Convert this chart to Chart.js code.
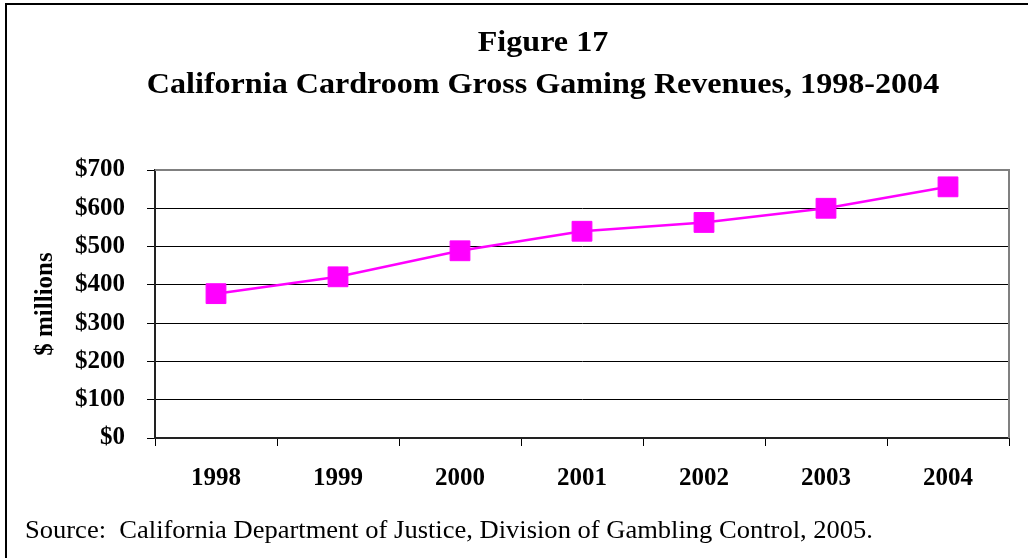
<!DOCTYPE html>
<html>
<head>
<meta charset="utf-8">
<title>California Cardroom Gross Gaming Revenues</title>
<script src="https://cdn.jsdelivr.net/npm/chart.js@4.4.0/dist/chart.umd.min.js"></script>
<style>
  html, body { margin: 0; padding: 0; background: #fff; overflow: hidden; }
  #frame {
    position: absolute; left: 5px; top: 3px; width: 1100px; height: 700px;
    border-left: 2px solid #000; border-top: 2px solid #000;
  }
  #wrap { position: absolute; left: 0; top: 0; width: 1028px; height: 558px; }
</style>
</head>
<body>
<div id="frame"></div>
<div id="wrap"><canvas id="lineChart" width="1028" height="558"></canvas></div>
<script>
// Dados do gráfico
const years = ['1998', '1999', '2000', '2001', '2002', '2003', '2004'];
const revenues = [377, 421, 489, 540, 563, 600, 656];
const yTicks = [0, 100, 200, 300, 400, 500, 600, 700];

const titleLines = ['Figure 17', 'California Cardroom Gross Gaming Revenues, 1998-2004'];
const sourceText = 'Source:  California Department of Justice, Division of Gambling Control, 2005.';

const serif = "'Liberation Serif', 'Times New Roman', serif";

// Escreve um texto esticado na horizontal (a fonte original é um pouco mais larga)
function wideText(ctx, text, x, y, stretch, align) {
  const w = ctx.measureText(text).width * stretch;
  const left = align === 'center' ? x - w / 2 : x;
  ctx.save();
  ctx.translate(left, y);
  ctx.scale(stretch, 1);
  ctx.textAlign = 'left';
  ctx.fillText(text, 0, 0);
  ctx.restore();
}

// Títulos, moldura da área do gráfico e fonte
const extras = {
  id: 'extras',
  beforeDatasetsDraw(chart) {
    const { ctx, chartArea: a } = chart;
    ctx.save();
    ctx.strokeStyle = '#808080';
    ctx.lineWidth = 2;
    ctx.beginPath();
    ctx.moveTo(a.left, a.top);
    ctx.lineTo(a.right, a.top);
    ctx.lineTo(a.right, a.bottom);
    ctx.stroke();
    ctx.restore();
  },
  afterDraw(chart) {
    const { ctx } = chart;
    ctx.save();
    ctx.fillStyle = '#000';
    ctx.textBaseline = 'alphabetic';
    ctx.font = 'bold 30px ' + serif;
    wideText(ctx, titleLines[0], 543, 51, 1.07, 'center');
    wideText(ctx, titleLines[1], 543, 93, 1.07, 'center');
    ctx.font = '25px ' + serif;
    const s = 848 / ctx.measureText(sourceText).width;
    wideText(ctx, sourceText, 25, 538, s, 'left');
    ctx.restore();
  }
};

const ctx = document.getElementById('lineChart').getContext('2d');

const lineChart = new Chart(ctx, {
  type: 'line',
  data: {
    labels: years,
    datasets: [{
      data: revenues,
      borderColor: '#FF00FF',
      backgroundColor: '#FF00FF',
      borderWidth: 2.5,
      pointStyle: 'rect',
      pointRadius: 14,
      pointBorderWidth: 1,
      pointBorderColor: '#FF00FF',
      pointBackgroundColor: '#FF00FF',
      tension: 0,
      clip: false
    }]
  },
  options: {
    responsive: false,
    animation: false,
    layout: { padding: { left: 31, right: 19, top: 170, bottom: 60 } },
    plugins: {
      legend: { display: false },
      tooltip: { enabled: false }
    },
    scales: {
      x: {
        offset: true,
        afterFit(scale) { scale.height = 60; },
        grid: {
          offset: true,
          drawOnChartArea: false,
          drawTicks: true,
          tickLength: 8,
          color: '#000',
          lineWidth: 1
        },
        border: { display: true, color: '#222', width: 2 },
        ticks: {
          color: '#000',
          padding: 18,
          font: { family: serif, size: 25, weight: 'bold' }
        }
      },
      y: {
        min: 0,
        max: 700,
        afterFit(scale) { scale.width = 124; },
        afterBuildTicks(scale) { scale.ticks = yTicks.map(v => ({ value: v })); },
        grid: {
          color: '#000',
          lineWidth: 1,
          drawTicks: true,
          tickLength: 8
        },
        border: { display: true, color: '#222', width: 2 },
        ticks: {
          color: '#000',
          padding: 22,
          font: { family: serif, size: 25, weight: 'bold' },
          callback: v => '$' + v
        },
        title: {
          display: true,
          text: '$ millions',
          color: '#000',
          padding: 0,
          font: { family: serif, size: 25, weight: 'bold' }
        }
      }
    }
  },
  plugins: [extras]
});
</script>
</body>
</html>
